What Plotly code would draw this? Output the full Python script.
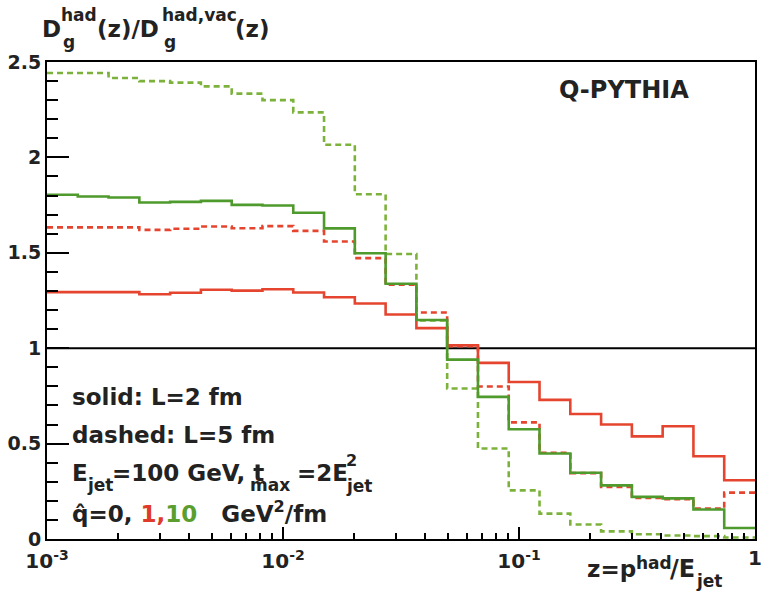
import numpy as np
import plotly.graph_objects as go

# ---- data (23 log-uniform bins from 1e-3 to 1) ----
n_bins = 23
edges = 10 ** np.linspace(-3, 0, n_bins + 1)

red_solid = [1.294, 1.294, 1.294, 1.283, 1.291, 1.306, 1.302, 1.309, 1.292, 1.267,
             1.234, 1.177, 1.105, 1.015, 0.923, 0.823, 0.729, 0.655, 0.600, 0.538,
             0.591, 0.434, 0.308]
green_solid = [1.804, 1.795, 1.790, 1.764, 1.767, 1.772, 1.751, 1.748, 1.710, 1.628,
               1.498, 1.338, 1.148, 0.940, 0.745, 0.575, 0.448, 0.347, 0.281, 0.221,
               0.213, 0.155, 0.058]
red_dashed = [1.633, 1.633, 1.633, 1.620, 1.626, 1.638, 1.629, 1.640, 1.615, 1.559,
              1.472, 1.333, 1.187, 1.010, 0.799, 0.611, 0.452, 0.345, 0.273, 0.215,
              0.209, 0.160, 0.243]
green_dashed = [2.442, 2.442, 2.416, 2.400, 2.392, 2.372, 2.334, 2.300, 2.236, 2.066,
                1.807, 1.494, 1.146, 0.789, 0.474, 0.255, 0.133, 0.076, 0.040, 0.025,
                0.018, 0.015, 0.008]

x_tickvals = [1e-3, 1e-2, 1e-1]
x_ticktext = ["10<sup>-3</sup>", "10<sup>-2</sup>", "10<sup>-1</sup>"]
x_last_label = "1"
y_tickvals = [0, 0.5, 1, 1.5, 2, 2.5]
y_ticktext = ["0", "0.5", "1", "1.5", "2", "2.5"]

RED = "#e5452f"
GREEN_S = "#4f9a2c"
GREEN_D = "#7cb23c"
TXT = "#222222"
FONT = "DejaVu Sans"

fig = go.Figure()


def step_trace(vals, color, dash):
    xs = list(edges)
    ys = list(vals) + [vals[-1]]
    return go.Scatter(x=xs, y=ys, mode="lines", line=dict(shape="hv", color=color, width=2.6, dash=dash),
                      showlegend=False, hoverinfo="skip")


fig.add_trace(step_trace(green_dashed, GREEN_D, "6px,4px"))
fig.add_trace(step_trace(red_dashed, RED, "6px,4px"))
fig.add_trace(step_trace(red_solid, RED, "solid"))
fig.add_trace(step_trace(green_solid, GREEN_S, "solid"))

fig.add_shape(type="line", xref="paper", x0=0, x1=1, yref="y", y0=1, y1=1,
              line=dict(color="black", width=2), layer="below")

minor_x = [m * 10.0 ** d for d in (-3, -2, -1) for m in range(2, 10)] + [1]

fig.update_layout(
    width=761, height=593,
    margin=dict(l=47, r=4, t=62, b=54),
    paper_bgcolor="white", plot_bgcolor="white",
    xaxis=dict(type="log", range=[-3, 0], showgrid=False, zeroline=False,
               showline=True, linecolor="black", linewidth=2, mirror=True,
               ticks="inside", ticklen=12, tickwidth=1.5, tickcolor="black",
               tickmode="array", tickvals=x_tickvals, ticktext=x_ticktext,
               ticklabelstandoff=3,
               tickfont=dict(family=FONT, size=20, color=TXT, weight="bold"),
               minor=dict(ticks="inside", ticklen=6, tickwidth=1.5, tickcolor="black",
                          tickmode="array", tickvals=minor_x, showgrid=False)),
    yaxis=dict(range=[0, 2.5], showgrid=False, zeroline=False,
               showline=True, linecolor="black", linewidth=2, mirror=True,
               ticks="inside", ticklen=22, tickwidth=1.5, tickcolor="black",
               tickmode="array", tickvals=y_tickvals, ticktext=y_ticktext,
               tickfont=dict(family=FONT, size=19, color=TXT, weight="bold"),
               minor=dict(ticks="inside", ticklen=11, tickwidth=1.5, tickcolor="black",
                          dtick=0.1, showgrid=False)),
)

PL, PT, PB = 47, 62, 539
PW, PH = 710, PB - PT


def ann(text, px, py, size, color=TXT, anchor="left"):
    fig.add_annotation(text=text, xref="paper", yref="paper",
                       x=(px - PL) / PW, y=(PB - py) / PH,
                       xanchor=anchor, yanchor="middle", showarrow=False,
                       borderpad=0, borderwidth=0,
                       font=dict(family=FONT, size=size, color=color, weight="bold"))


# last x tick label (at the right edge, partly cut like the reference)
ann(x_last_label, 757, 558, 20, anchor="center")

# y-axis title (stacked sub/superscripts)
ann("D", 42, 29, 23)
ann("had", 61, 15, 17)
ann("g", 63, 42, 17)
ann("(z)/D", 97, 29, 23)
ann("had,vac", 162, 15, 17)
ann("g", 164, 42, 17)
ann("(z)", 236, 29, 23)

# x-axis title
ann("z=p", 589, 569, 23)
ann("had", 638, 563, 17)
ann("/E", 672, 569, 24)
ann("jet", 698, 581, 17)

# label
ann("Q-PYTHIA", 626, 90, 24, anchor="center")

# text block
ann("solid: L=2 fm", 72, 397, 23)
ann("dashed: L=5 fm", 72, 435, 23)
ann("E", 72, 473, 23)
ann("jet", 87, 485, 17)
ann("=100 GeV, t", 112, 473, 23)
ann("max", 251, 485, 17)
ann("=2E", 298, 473, 23)
ann("2", 347, 460, 16)
ann("jet", 347, 486, 17)
ann("q\u0302=0, <span style='color:%s'>1,</span><span style='color:%s'>10</span>\u00a0\u00a0\u00a0GeV<sup>2</sup>/fm"
    % ("#e03a28", "#5a9e30"), 72, 512, 23)

fig.write_html("out.html")
